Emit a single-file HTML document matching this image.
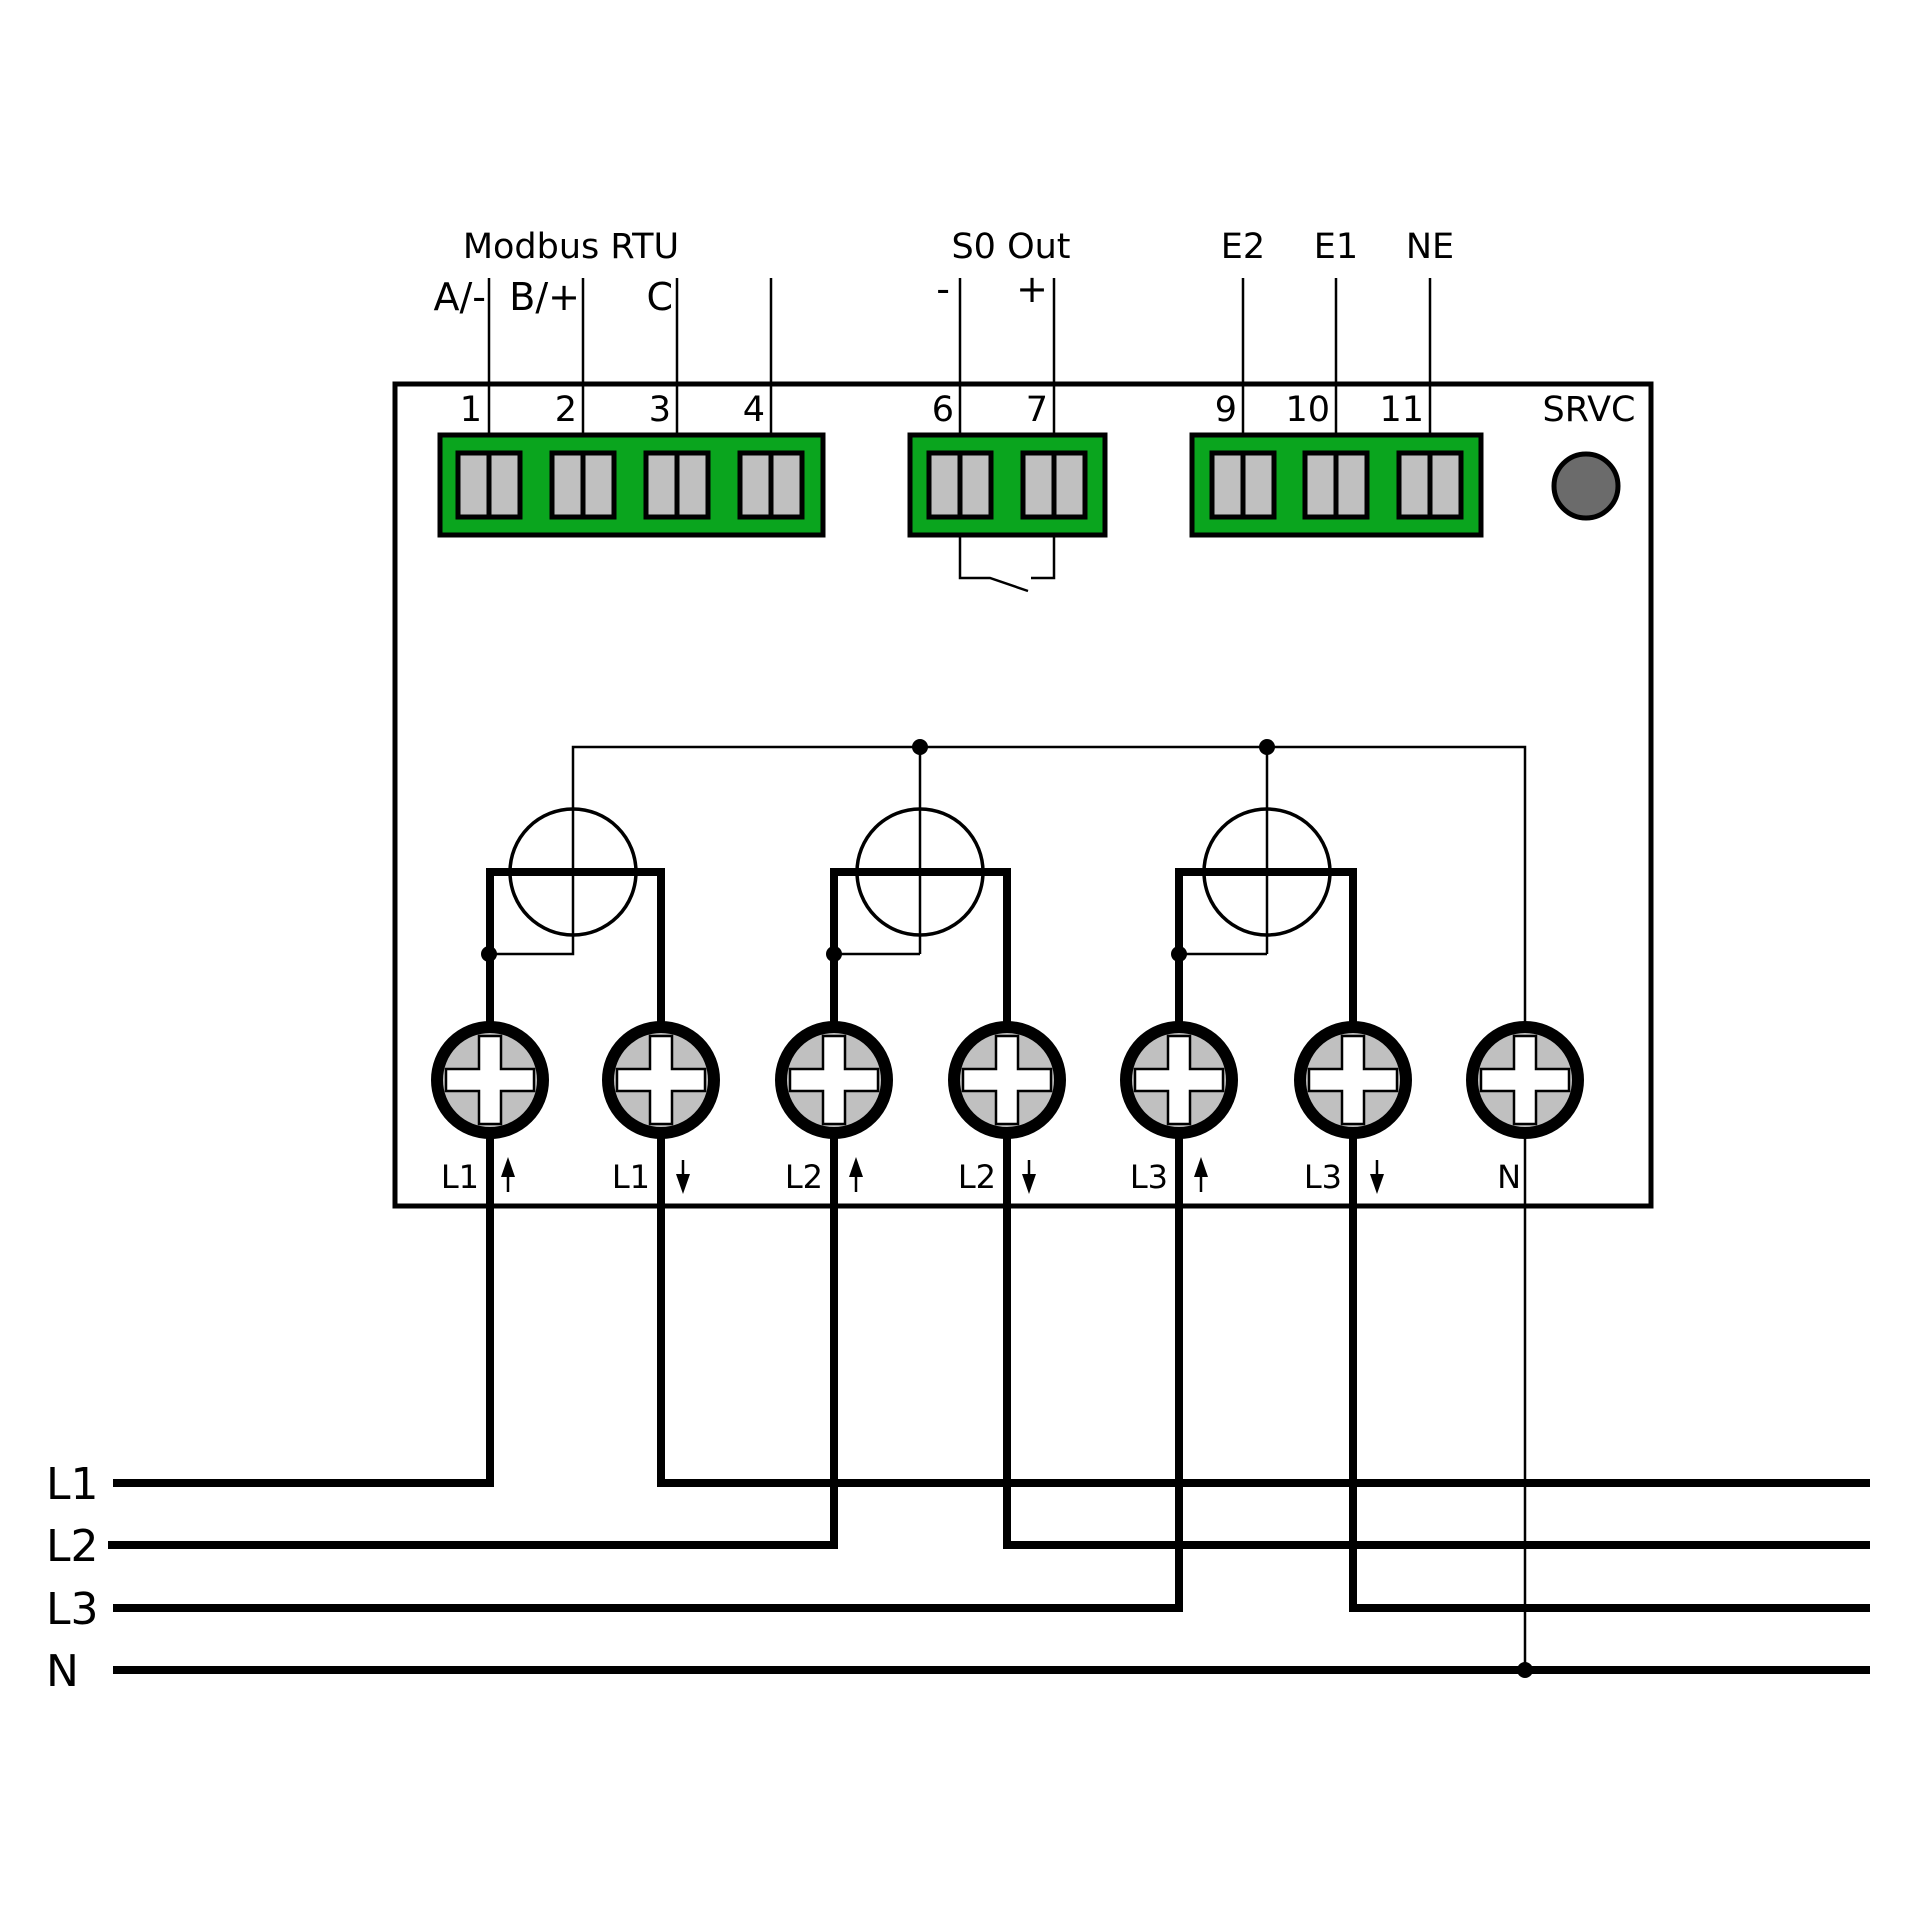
<!DOCTYPE html>
<html><head><meta charset="utf-8"><style>html,body{margin:0;padding:0;background:#fff}svg{display:block}</style></head>
<body>
<svg width="1920" height="1920" viewBox="0 0 1920 1920" xmlns="http://www.w3.org/2000/svg" font-family="'DejaVu Sans','Liberation Sans',sans-serif" fill="none" stroke="#000">
<defs>
<g id="sb"><rect x="-31" y="453" width="31" height="64"/><rect x="0" y="453" width="31" height="64"/></g>
<g id="st">
<circle cx="0" cy="1080" r="53" fill="#c0c0c0" stroke-width="12"/>
<path d="M-11,1036 h22 v33 h33 v22 h-33 v33 h-22 v-33 h-33 v-22 h33 z" fill="#fff" stroke-width="2.5"/>
</g>
</defs>
<rect x="395" y="384" width="1256" height="822" stroke-width="5"/>
<g stroke-width="2.5">
<line x1="489" y1="278" x2="489" y2="434"/><line x1="583" y1="278" x2="583" y2="434"/>
<line x1="677" y1="278" x2="677" y2="434"/><line x1="771" y1="278" x2="771" y2="434"/>
<line x1="960" y1="278" x2="960" y2="434"/><line x1="1054" y1="278" x2="1054" y2="434"/>
<line x1="1243" y1="278" x2="1243" y2="434"/><line x1="1336" y1="278" x2="1336" y2="434"/>
<line x1="1430" y1="278" x2="1430" y2="434"/>
<polyline points="960,535 960,578 990,578 1028,591"/>
<polyline points="1054,535 1054,578 1031,578"/>
</g>
<g fill="#0aa51e" stroke-width="5">
<rect x="440" y="435" width="383" height="100"/>
<rect x="910" y="435" width="195" height="100"/>
<rect x="1192" y="435" width="289" height="100"/>
</g>
<g fill="#c0c0c0" stroke-width="5">
<use href="#sb" x="489"/><use href="#sb" x="583"/><use href="#sb" x="677"/><use href="#sb" x="771"/>
<use href="#sb" x="960"/><use href="#sb" x="1054"/>
<use href="#sb" x="1243"/><use href="#sb" x="1336"/><use href="#sb" x="1430"/>
</g>
<circle cx="1586" cy="486" r="32" fill="#6b6b6b" stroke-width="5"/>
<g fill="#000" stroke="none" font-size="35">
<text x="571" y="258" text-anchor="middle">Modbus RTU</text>
<text x="1011" y="258" text-anchor="middle">S0 Out</text>
<text x="1243" y="258" text-anchor="middle">E2</text>
<text x="1336" y="258" text-anchor="middle">E1</text>
<text x="1430" y="258" text-anchor="middle">NE</text>
<text x="486" y="310" text-anchor="end" font-size="38">A/-</text>
<text x="580" y="310" text-anchor="end" font-size="38">B/+</text>
<text x="673" y="310" text-anchor="end" font-size="38">C</text>
<text x="950" y="302" text-anchor="end" font-size="38">-</text>
<text x="1048" y="302" text-anchor="end" font-size="38">+</text>
<g text-anchor="end">
<text x="482" y="421">1</text><text x="577" y="421">2</text><text x="671" y="421">3</text><text x="765" y="421">4</text>
<text x="954" y="421">6</text><text x="1048" y="421">7</text>
<text x="1237" y="421">9</text><text x="1330" y="421">10</text><text x="1424" y="421">11</text>
</g>
<text x="1589" y="421" text-anchor="middle">SRVC</text>
<g font-size="32" text-anchor="end">
<text x="479" y="1188">L1</text><text x="650" y="1188">L1</text>
<text x="823" y="1188">L2</text><text x="996" y="1188">L2</text>
<text x="1168" y="1188">L3</text><text x="1342" y="1188">L3</text>
<text x="1521" y="1188">N</text>
</g>
<g font-size="44">
<text x="46" y="1499">L1</text><text x="46" y="1561">L2</text><text x="46" y="1624">L3</text><text x="46" y="1686">N</text>
</g>
</g>
<g stroke-width="2.5">
<polyline points="573,872 573,747 1525,747 1525,1670"/>
<line x1="920" y1="747" x2="920" y2="954"/>
<line x1="1267" y1="747" x2="1267" y2="954"/>
<polyline points="573,872 573,954 489,954"/>
<polyline points="920,954 834,954"/>
<polyline points="1267,954 1179,954"/>
</g>
<g stroke-width="3.5">
<circle cx="573" cy="872" r="63"/><circle cx="920" cy="872" r="63"/><circle cx="1267" cy="872" r="63"/>
</g>
<g fill="#000" stroke="none">
<circle cx="920" cy="747" r="8"/><circle cx="1267" cy="747" r="8"/>
<circle cx="489" cy="954" r="8"/><circle cx="834" cy="954" r="8"/><circle cx="1179" cy="954" r="8"/>
<circle cx="1525" cy="1670" r="8"/>
</g>
<g stroke-width="8">
<polyline points="113,1483 490,1483 490,872 661,872 661,1483 1870,1483"/>
<polyline points="108,1545 834,1545 834,872 1007,872 1007,1545 1870,1545"/>
<polyline points="113,1608 1179,1608 1179,872 1353,872 1353,1608 1870,1608"/>
<line x1="113" y1="1670" x2="1870" y2="1670"/>
</g>
<use href="#st" x="490"/><use href="#st" x="661"/>
<use href="#st" x="834"/><use href="#st" x="1007"/><use href="#st" x="1179"/><use href="#st" x="1353"/><use href="#st" x="1525"/>
<g stroke-width="2.5">
<line x1="508" y1="1192" x2="508" y2="1162"/><line x1="683" y1="1160" x2="683" y2="1188"/>
<line x1="856" y1="1192" x2="856" y2="1162"/><line x1="1029" y1="1160" x2="1029" y2="1188"/>
<line x1="1201" y1="1192" x2="1201" y2="1162"/><line x1="1377" y1="1160" x2="1377" y2="1188"/>
</g>
<g fill="#000" stroke="none">
<path d="M508,1157 l-7,20 h14z"/><path d="M683,1194 l-7,-20 h14z"/>
<path d="M856,1157 l-7,20 h14z"/><path d="M1029,1194 l-7,-20 h14z"/>
<path d="M1201,1157 l-7,20 h14z"/><path d="M1377,1194 l-7,-20 h14z"/>
</g>
</svg>
</body></html>
